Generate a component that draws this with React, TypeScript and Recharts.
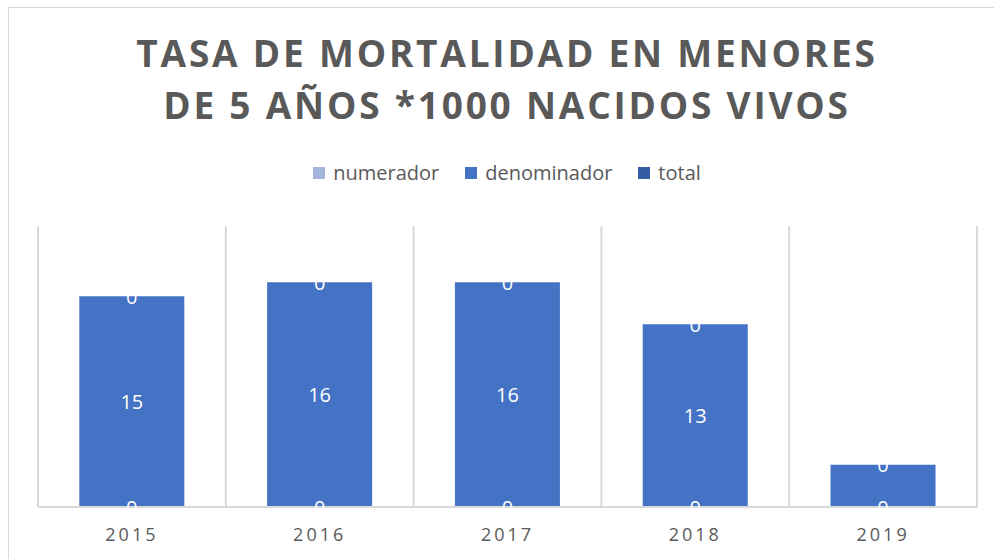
import React from 'react';
import { BarChart, Bar, XAxis, YAxis, CartesianGrid, LabelList } from 'recharts';

const years = ['2015', '2016', '2017', '2018', '2019'];
const numerador = [0, 0, 0, 0, 0];
const denominador = [15, 16, 16, 13, 3];
const total = [0, 0, 0, 0, 0];
const denominadorLabels = ['15', '16', '16', '13', ''];

const titleLines = ['TASA DE MORTALIDAD EN MENORES', 'DE 5 AÑOS *1000 NACIDOS VIVOS'];

const seriesInfo = [
  { key: 'numerador', name: 'numerador', color: '#A5B4DC' },
  { key: 'denominador', name: 'denominador', color: '#4472C4' },
  { key: 'total', name: 'total', color: '#365DA2' },
];

const data = years.map((y, i) => ({
  year: y,
  numerador: numerador[i],
  denominador: denominador[i],
  total: total[i],
  label: denominadorLabels[i],
}));

const FONT = '"Open Sans", "DejaVu Sans", sans-serif';
const GRAY = '#595959';
const GRID = '#D9D9D9';

const labelStyle = { fill: '#FFFFFF', fontSize: 20, fontFamily: FONT };

// Draws a value label centred on the bottom ("bottom") or top ("top") edge of the stack
const edgeLabel = (edge: 'top' | 'bottom') => (props: any) => {
  const { x, y, width, height, value } = props;
  if (value === undefined || value === null || value === '') return null;
  const cy = edge === 'top' ? Number(y) : Number(y) + Number(height);
  return (
    <text
      x={Number(x) + Number(width) / 2}
      y={cy}
      textAnchor="middle"
      dominantBaseline="central"
      fill="#FFFFFF"
      fontSize={20}
      fontFamily={FONT}
    >
      {value}
    </text>
  );
};

export default function App() {
  return (
    <div
      style={{
        position: 'fixed',
        left: 0,
        top: 0,
        width: 994,
        height: 559,
        overflow: 'hidden',
        background: '#FFFFFF',
      }}
    >
      <div
        style={{
          position: 'absolute',
          left: 8,
          top: 7,
          width: 1100,
          height: 700,
          border: `1px solid ${GRID}`,
          boxSizing: 'border-box',
        }}
      />
      <div
        style={{
          position: 'absolute',
          left: 0,
          top: 27,
          width: 1014,
          textAlign: 'center',
          fontFamily: FONT,
          fontWeight: 700,
          fontSize: 37,
          lineHeight: '52px',
          letterSpacing: 2.8,
          color: GRAY,
          whiteSpace: 'nowrap',
        }}
      >
        {titleLines.map((t) => (
          <div key={t}>{t}</div>
        ))}
      </div>
      <div
        style={{
          position: 'absolute',
          left: 0,
          top: 160,
          width: 1014,
          display: 'flex',
          justifyContent: 'center',
          fontFamily: FONT,
          fontSize: 20,
          color: GRAY,
          lineHeight: '26px',
        }}
      >
        {seriesInfo.map((s) => (
          <div key={s.key} style={{ display: 'flex', alignItems: 'center', margin: '0 13px' }}>
            <span style={{ display: 'inline-block', width: 12, height: 12, background: s.color, marginRight: 8 }} />
            <span>{s.name}</span>
          </div>
        ))}
      </div>
      <div style={{ position: 'absolute', left: 0, top: 0 }}>
        <BarChart
          width={994}
          height={559}
          data={data}
          margin={{ top: 226, right: 17, bottom: 22, left: 38 }}
          barCategoryGap="22%"
        >
          <CartesianGrid
            horizontal={false}
            stroke={GRID}
            strokeWidth={2}
            verticalCoordinatesGenerator={({ offset }: any) =>
              years
                .map((_, i) => offset.left + (i * offset.width) / years.length)
                .concat([offset.left + offset.width])
            }
          />
          <XAxis
            dataKey="year"
            height={30}
            tickLine={false}
            axisLine={{ stroke: GRID, strokeWidth: 2 }}
            tickMargin={15}
            tick={{ fill: GRAY, fontSize: 18, fontFamily: FONT, letterSpacing: 3 }}
          />
          <YAxis hide domain={[0, 20]} />
          <Bar dataKey="numerador" stackId="a" fill={seriesInfo[0].color} isAnimationActive={false} />
          <Bar dataKey="denominador" stackId="a" fill={seriesInfo[1].color} isAnimationActive={false}>
            <LabelList dataKey="label" position="center" style={labelStyle} />
            <LabelList dataKey="numerador" content={edgeLabel('bottom')} />
            <LabelList dataKey="total" content={edgeLabel('top')} />
          </Bar>
          <Bar dataKey="total" stackId="a" fill={seriesInfo[2].color} isAnimationActive={false} />
        </BarChart>
      </div>
    </div>
  );
}
